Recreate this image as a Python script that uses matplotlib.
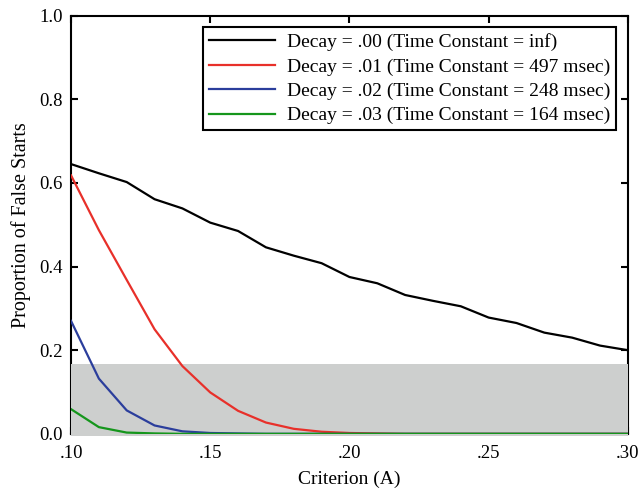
# proportion of false starts vs criterion for four decay values
import matplotlib
matplotlib.use('Agg')
import matplotlib.pyplot as plt

criterion = [.10, .11, .12, .13, .14, .15, .16, .17, .18, .19, .20,
             .21, .22, .23, .24, .25, .26, .27, .28, .29, .30]

decay_00 = [0.645, 0.623, 0.602, 0.561, 0.539, 0.505, 0.485, 0.446, 0.426, 0.408, 0.375,
            0.360, 0.332, 0.318, 0.305, 0.278, 0.265, 0.242, 0.230, 0.211, 0.200]
decay_01 = [0.618, 0.487, 0.368, 0.250, 0.162, 0.099, 0.055, 0.027, 0.012, 0.005, 0.002,
            0.001, 0.0, 0.0, 0.0, 0.0, 0.0, 0.0, 0.0, 0.0, 0.0]
decay_02 = [0.270, 0.132, 0.056, 0.020, 0.006, 0.002, 0.001, 0.0, 0.0, 0.0, 0.0,
            0.0, 0.0, 0.0, 0.0, 0.0, 0.0, 0.0, 0.0, 0.0, 0.0]
decay_03 = [0.059, 0.016, 0.003, 0.001, 0.0, 0.0, 0.0, 0.0, 0.0, 0.0, 0.0,
            0.0, 0.0, 0.0, 0.0, 0.0, 0.0, 0.0, 0.0, 0.0, 0.0]

labels = ['Decay = .00 (Time Constant = inf)',
          'Decay = .01 (Time Constant = 497 msec)',
          'Decay = .02 (Time Constant = 248 msec)',
          'Decay = .03 (Time Constant = 164 msec)']

band_top = 0.167

xticks = [.10, .15, .20, .25, .30]
xticklabels = ['.10', '.15', '.20', '.25', '.30']
yticks = [0.0, 0.2, 0.4, 0.6, 0.8, 1.0]

plt.rcParams['font.family'] = 'serif'
plt.rcParams['font.serif'] = ['Liberation Serif', 'DejaVu Serif']

fig = plt.figure(figsize=(6.4, 4.88), dpi=100)
ax = fig.add_axes([0.111, 0.111, 0.870, 0.857])

ax.plot(criterion, decay_00, c='black', lw=1.6, label=labels[0], zorder=4)
ax.plot(criterion, decay_01, c='#e8302a', lw=1.6, label=labels[1], zorder=4)
ax.plot(criterion, decay_02, c='#2b3e9c', lw=1.6, label=labels[2], zorder=4)
ax.plot(criterion, decay_03, c='#15961c', lw=1.6, label=labels[3], zorder=4)

# grey band drawn over the lower part of the frame
ax.axhspan(-0.005, band_top, color='#cdcfce', zorder=3, lw=0, clip_on=False)

ax.set_xlim(.10, .30)
ax.set_ylim(0, 1.0)
ax.set_xticks(xticks)
ax.set_xticklabels(xticklabels, family='serif')
ax.set_yticks(yticks)
ax.set_yticklabels(['%.1f' % v for v in yticks], family='serif')
ax.tick_params(direction='in', length=5, width=1.5, labelsize=13.5, top=True, right=True)
ax.tick_params(axis='x', pad=8)
ax.tick_params(axis='y', pad=6)
for sp in ax.spines.values():
    sp.set_linewidth(1.5)

ax.set_xlabel('Criterion (A)', fontsize=14, labelpad=6)
ax.set_ylabel('Proportion of False Starts', fontsize=14.5, labelpad=6)

leg = ax.legend(loc='upper right', fontsize=14, frameon=True, fancybox=False,
                edgecolor='black', framealpha=1, handlelength=3.4, handletextpad=0.6,
                borderpad=0.3, labelspacing=0.35, borderaxespad=0.6)
leg.get_frame().set_linewidth(1.5)
leg.set_zorder(5)

plt.savefig('out.png', dpi=100)
